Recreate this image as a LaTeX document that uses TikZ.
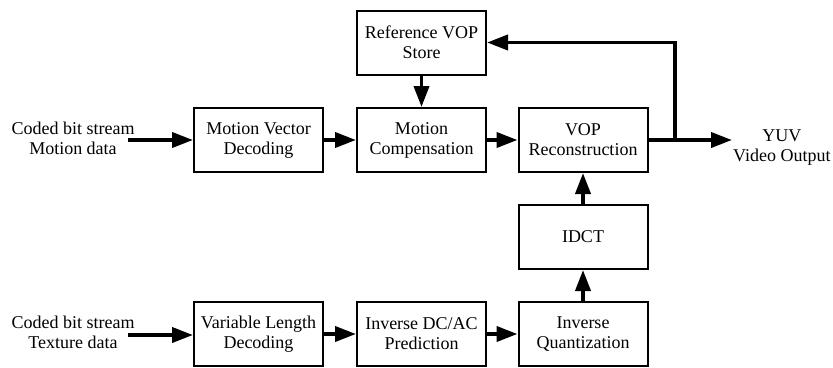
\documentclass[tikz,border=0pt]{standalone}
\usepackage{fontspec}
\setmainfont{Liberation Serif}
\usetikzlibrary{arrows.meta}

\begin{document}
\begin{tikzpicture}[x=1pt, y=1pt,
    block/.style={draw, line width=2pt, minimum width=129pt, minimum height=64pt,
                  align=center, font=\fontsize{18}{20}\selectfont},
    label/.style={align=center, inner sep=1pt, font=\fontsize{18}{20}\selectfont},
    flow/.style={line width=3.8pt, -{Triangle[length=21pt 0, width=15pt 0]}}]
      \useasboundingbox (0,0) rectangle (833,-367);

      % Motion path
      \node[block] (mvd) at (258.5,-140) {Motion Vector\\Decoding};
      \node[block] (mc)  at (421.5,-140) {Motion\\Compensation};
      \node[block] (vop) at (583,-140)   {VOP\\Reconstruction};
      \node[block] (ref) at (421.5,-42.5) {Reference VOP\\Store};

      % Texture path
      \node[block] (vld)  at (258.5,-334) {Variable Length\\Decoding};
      \node[block] (dcac) at (421.5,-334) {Inverse DC/AC\\Prediction};
      \node[block] (iq)   at (583,-334)   {Inverse\\Quantization};
      \node[block] (idct) at (583,-237)   {IDCT};

      % Inputs and output
      \node[label] (inm) at (73,-138) {Coded bit stream\\Motion data};
      \node[label] (int) at (73,-332) {Coded bit stream\\Texture data};
      \node[label, anchor=west] (yuv) at (732,-148) {YUV\\Video Output};
      \coordinate (inm-end) at (128,-140);
      \coordinate (int-end) at (128,-335);
      \coordinate (tap) at (675,-140);

      \draw[flow] (inm-end) -- (mvd.west);
      \draw[flow] (mvd) -- (mc);
      \draw[flow] (mc) -- (vop);
      \draw[flow] (ref) -- (mc);
      \draw[flow] (vop.east) -- (yuv.west |- vop.east);
      \draw[flow] (tap) |- (ref.east);

      \draw[flow] (int-end) -- (vld.west |- int-end);
      \draw[flow] (vld) -- (dcac);
      \draw[flow] (dcac) -- (iq);
      \draw[flow] (iq) -- (idct);
      \draw[flow] (idct) -- (vop);
    \end{tikzpicture}
\end{document}
